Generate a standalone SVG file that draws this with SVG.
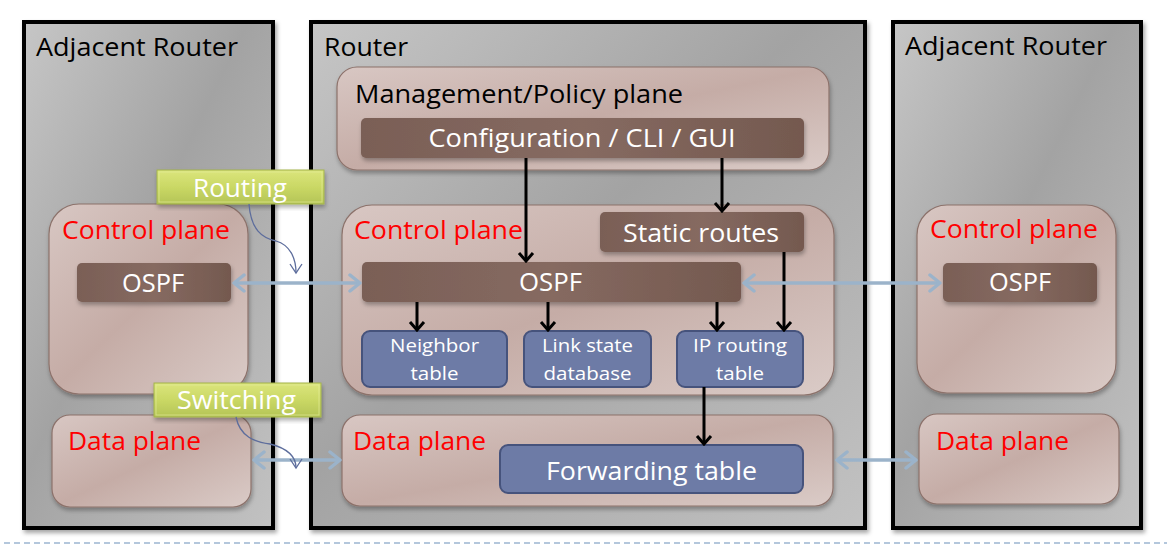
<svg xmlns="http://www.w3.org/2000/svg" width="1167" height="546" viewBox="0 0 1167 546">
<style>
text{font-family:"Open Sans","Liberation Sans",sans-serif;}
.ttl{font-size:25px;fill:#000;}
.red{font-size:25px;fill:#ff0000;}
.wht{font-size:25px;fill:#fff;}
.tbl{font-size:19px;fill:#fff;}
.outer{fill:url(#gGray);stroke:#000;stroke-width:4;filter:url(#sh);}
.plane{fill:url(#gPlane);stroke:#8c726b;stroke-width:1.2;filter:url(#sh2);}
.brown{fill:url(#gBrown);filter:url(#sh2);}
.blue{fill:#6d7ba6;stroke:#46537c;stroke-width:2;}
.green{fill:url(#gGreen);stroke:#a3b34c;stroke-width:1;filter:url(#sh2);}
.blk{stroke:#000;stroke-width:3;fill:none;marker-end:url(#ah);}
.bi{stroke:#9bb3ca;stroke-width:3.5;fill:none;marker-start:url(#ahb);marker-end:url(#ahb);}
.crv{stroke:#5d6d9c;stroke-width:1.3;fill:none;marker-end:url(#ahc);}
</style>
<defs>
<linearGradient id="gGray" x1="0" y1="0" x2="1" y2="1">
<stop offset="0" stop-color="#c6c6c6"/><stop offset="0.45" stop-color="#a3a3a3"/><stop offset="1" stop-color="#c2c2c2"/>
</linearGradient>
<linearGradient id="gPlane" x1="0" y1="0" x2="1" y2="1">
<stop offset="0" stop-color="#d8c7c3"/><stop offset="0.5" stop-color="#c5aca6"/><stop offset="1" stop-color="#dacbc7"/>
</linearGradient>
<linearGradient id="gBrown" x1="0" y1="0" x2="1" y2="0">
<stop offset="0" stop-color="#7a5f56"/><stop offset="0.5" stop-color="#866a61"/><stop offset="1" stop-color="#74594f"/>
</linearGradient>
<linearGradient id="gGreen" x1="0" y1="0" x2="0" y2="1">
<stop offset="0" stop-color="#dbe57c"/><stop offset="0.5" stop-color="#cad865"/><stop offset="1" stop-color="#b4c456"/>
</linearGradient>
<filter id="sh" x="-5%" y="-5%" width="110%" height="110%">
<feDropShadow dx="2" dy="3" stdDeviation="2" flood-color="#000" flood-opacity="0.35"/>
</filter>
<filter id="sh2" x="-10%" y="-10%" width="120%" height="130%">
<feDropShadow dx="1" dy="3" stdDeviation="2" flood-color="#000" flood-opacity="0.3"/>
</filter>
<marker id="ah" markerUnits="userSpaceOnUse" viewBox="-12 -9 14 18" refX="0" refY="0" markerWidth="14" markerHeight="18" orient="auto">
<path d="M-8,-7 L0,0 L-8,7" fill="none" stroke="#000" stroke-width="3"/>
</marker>
<marker id="ahb" markerUnits="userSpaceOnUse" viewBox="-14 -10 16 20" refX="0" refY="0" markerWidth="16" markerHeight="20" orient="auto-start-reverse">
<path d="M-10,-8 L0,0 L-10,8" fill="none" stroke="#9bb3ca" stroke-width="3.5" stroke-linecap="round" stroke-linejoin="round"/>
</marker>
<marker id="ahc" markerUnits="userSpaceOnUse" viewBox="-10 -8 12 16" refX="0" refY="0" markerWidth="12" markerHeight="16" orient="auto">
<path d="M-9,-6 L0,0 L-9,6" fill="none" stroke="#5d6d9c" stroke-width="1.3"/>
</marker>
</defs>
<rect width="1167" height="546" fill="#fff"/>
<line x1="4" y1="543" x2="1167" y2="543" stroke="#b4c7dc" stroke-width="2" stroke-dasharray="6 4"/>

<g id="left-router">
<rect class="outer" x="24" y="22" width="249" height="506"/>
<text class="ttl" x="36" y="56" textLength="202" lengthAdjust="spacingAndGlyphs">Adjacent Router</text>
</g>
<g id="router">
<rect class="outer" x="311" y="22" width="554" height="506"/>
<text class="ttl" x="324" y="56" textLength="84" lengthAdjust="spacingAndGlyphs">Router</text>
</g>
<g id="right-router">
<rect class="outer" x="893" y="22" width="248" height="506"/>
<text class="ttl" x="905" y="55" textLength="202" lengthAdjust="spacingAndGlyphs">Adjacent Router</text>
</g>

<g id="left-control-plane">
<rect class="plane" x="49" y="204" width="199" height="190" rx="30"/>
<text class="red" x="62" y="239" textLength="168" lengthAdjust="spacingAndGlyphs">Control plane</text>
</g>
<g id="left-ospf">
<rect class="brown" x="77" y="263" width="154" height="39" rx="5"/>
<text class="wht" x="153" y="292" text-anchor="middle" textLength="62" lengthAdjust="spacingAndGlyphs">OSPF</text>
</g>
<g id="left-data-plane">
<rect class="plane" x="52" y="415" width="199" height="92" rx="18"/>
<text class="red" x="68" y="450" textLength="133" lengthAdjust="spacingAndGlyphs">Data plane</text>
</g>

<g id="mgmt-plane">
<rect class="plane" x="337" y="67" width="492" height="103" rx="20"/>
<text class="ttl" x="355" y="103" textLength="328" lengthAdjust="spacingAndGlyphs">Management/Policy plane</text>
</g>
<g id="config">
<rect class="brown" x="361" y="118" width="443" height="40" rx="5"/>
<text class="wht" x="582" y="147" text-anchor="middle" textLength="307" lengthAdjust="spacingAndGlyphs">Configuration / CLI / GUI</text>
</g>
<g id="control-plane">
<rect class="plane" x="342" y="205" width="492" height="190" rx="30"/>
<text class="red" x="354" y="239" textLength="169" lengthAdjust="spacingAndGlyphs">Control plane</text>
</g>
<g id="static-routes">
<rect class="brown" x="600" y="212" width="204" height="40" rx="5"/>
<text class="wht" x="701" y="242" text-anchor="middle" textLength="156" lengthAdjust="spacingAndGlyphs">Static routes</text>
</g>
<g id="ospf">
<rect class="brown" x="362" y="262" width="379" height="40" rx="5"/>
<text class="wht" x="550.5" y="291" text-anchor="middle" textLength="63" lengthAdjust="spacingAndGlyphs">OSPF</text>
</g>
<g id="neighbor-table">
<rect class="blue" x="362" y="331" width="145" height="56" rx="8"/>
<text class="tbl" x="434.5" y="352" text-anchor="middle" textLength="89" lengthAdjust="spacingAndGlyphs">Neighbor</text>
<text class="tbl" x="434.5" y="380" text-anchor="middle" textLength="48" lengthAdjust="spacingAndGlyphs">table</text>
</g>
<g id="link-state-db">
<rect class="blue" x="524" y="331" width="127" height="56" rx="8"/>
<text class="tbl" x="587.5" y="352" text-anchor="middle" textLength="91" lengthAdjust="spacingAndGlyphs">Link state</text>
<text class="tbl" x="587.5" y="380" text-anchor="middle" textLength="88" lengthAdjust="spacingAndGlyphs">database</text>
</g>
<g id="ip-routing-table">
<rect class="blue" x="677" y="331" width="126" height="56" rx="8"/>
<text class="tbl" x="740" y="352" text-anchor="middle" textLength="94" lengthAdjust="spacingAndGlyphs">IP routing</text>
<text class="tbl" x="740" y="380" text-anchor="middle" textLength="48" lengthAdjust="spacingAndGlyphs">table</text>
</g>
<g id="data-plane">
<rect class="plane" x="342" y="415" width="491" height="91" rx="18"/>
<text class="red" x="353" y="450" textLength="133" lengthAdjust="spacingAndGlyphs">Data plane</text>
</g>
<g id="forwarding-table">
<rect class="blue" x="500" y="445" width="303" height="48" rx="8"/>
<text class="wht" x="651.5" y="480" text-anchor="middle" textLength="211" lengthAdjust="spacingAndGlyphs">Forwarding table</text>
</g>

<g id="right-control-plane">
<rect class="plane" x="917" y="205" width="199" height="188" rx="30"/>
<text class="red" x="930" y="238" textLength="168" lengthAdjust="spacingAndGlyphs">Control plane</text>
</g>
<g id="right-ospf">
<rect class="brown" x="943" y="263" width="154" height="39" rx="5"/>
<text class="wht" x="1020" y="291" text-anchor="middle" textLength="62" lengthAdjust="spacingAndGlyphs">OSPF</text>
</g>
<g id="right-data-plane">
<rect class="plane" x="919" y="414" width="200" height="90" rx="18"/>
<text class="red" x="936" y="450" textLength="133" lengthAdjust="spacingAndGlyphs">Data plane</text>
</g>

<g id="connectors">
<line class="blk" x1="526" y1="158" x2="526" y2="261"/>
<line class="blk" x1="722" y1="158" x2="722" y2="211"/>
<line class="blk" x1="417" y1="302" x2="417" y2="330"/>
<line class="blk" x1="548" y1="302" x2="548" y2="330"/>
<line class="blk" x1="717" y1="302" x2="717" y2="330"/>
<line class="blk" x1="784" y1="252" x2="784" y2="330"/>
<line class="blk" x1="704" y1="387" x2="704" y2="444"/>
<line class="bi" x1="234" y1="283" x2="360" y2="283"/>
<line class="bi" x1="744" y1="283" x2="940" y2="283"/>
<line class="bi" x1="254" y1="460" x2="340" y2="460"/>
<line class="bi" x1="837" y1="460" x2="916" y2="460"/>
</g>

<g id="routing-label">
<rect class="green" x="157" y="170" width="167" height="34"/>
<rect x="159" y="172" width="163" height="30" fill="none" stroke="#e6ee9e" stroke-width="1" opacity="0.6"/>
<text class="wht" x="240" y="197" text-anchor="middle" textLength="94" lengthAdjust="spacingAndGlyphs">Routing</text>
</g>
<g id="switching-label">
<rect class="green" x="154" y="383" width="167" height="34"/>
<rect x="156" y="385" width="163" height="30" fill="none" stroke="#e6ee9e" stroke-width="1" opacity="0.6"/>
<text class="wht" x="236.5" y="409" text-anchor="middle" textLength="119" lengthAdjust="spacingAndGlyphs">Switching</text>
</g>
<g id="label-connectors">
<path class="crv" d="M249,204 C251,230 262,238 276,241 C290,245 296,258 296,273"/>
<path class="crv" d="M236,417 C240,437 255,442 270,444 C286,448 296,456 296,468"/>
</g>
</svg>
